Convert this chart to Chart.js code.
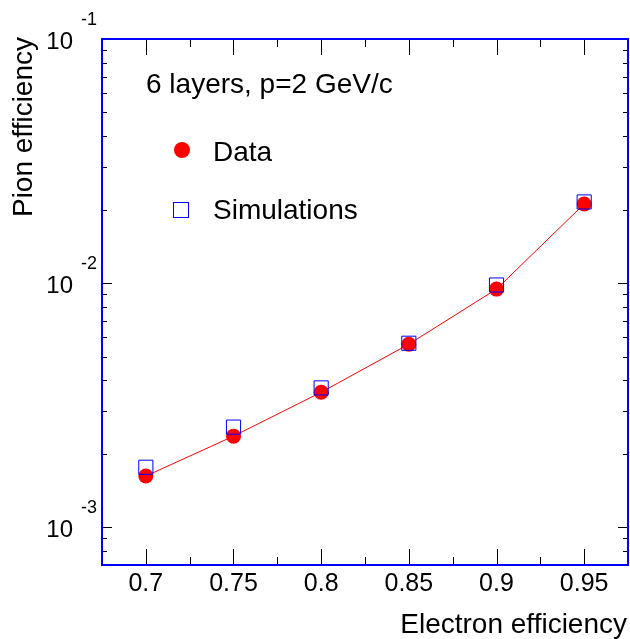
<!DOCTYPE html>
<html>
<head>
<meta charset="utf-8">
<script src="https://cdn.jsdelivr.net/npm/chart.js@4/dist/chart.umd.min.js"></script>
<style>
    html, body { margin: 0; background: #fff; overflow: hidden; }
    canvas { display: block; }
</style>
</head>
<body>
<canvas id="myChart" width="630" height="639"></canvas>
<script>
// values
const electronEff = [0.7, 0.75, 0.8, 0.85, 0.9, 0.95];
const dataPionEff = [0.00162, 0.00236, 0.00357, 0.00562, 0.00945, 0.0211];
const simPionEff = [0.00176, 0.00257, 0.00372, 0.00567, 0.00982, 0.0215];
const xTickLabels = ['0.7', '0.75', '0.8', '0.85', '0.9', '0.95'];
const yDecades = [-3, -2, -1];

const xMin = 0.675, xMax = 0.975;
const yMin = 0.0007, yMax = 0.1;

const font = '"Liberation Sans", Arial, sans-serif';

const rootFrame = {
    id: 'rootFrame',
    afterDraw(chart) {
        const ctx = chart.ctx;
        const a = chart.chartArea;
        const xs = chart.scales.x;
        const ys = chart.scales.y;
        ctx.save();

        // ticks
        ctx.strokeStyle = '#000';
        ctx.lineWidth = 1;
        ctx.beginPath();
        for (let i = 0; i < xTickLabels.length; i++) {
            const px = Math.round(xs.getPixelForValue(electronEff[i])) + 0.5;
            ctx.moveTo(px, a.bottom); ctx.lineTo(px, a.bottom - 16);
            ctx.moveTo(px, a.top); ctx.lineTo(px, a.top + 16);
        }
        for (let v = 0.725; v < 0.95; v += 0.05) {
            const px = Math.round(xs.getPixelForValue(v)) + 0.5;
            ctx.moveTo(px, a.bottom); ctx.lineTo(px, a.bottom - 8);
            ctx.moveTo(px, a.top); ctx.lineTo(px, a.top + 8);
        }
        for (let d = -4; d <= -2; d++) {
            for (let m = 1; m <= 9; m++) {
                const v = m * Math.pow(10, d);
                if (v < yMin || v > yMax) continue;
                const py = Math.round(ys.getPixelForValue(v)) + 0.5;
                const len = m === 1 ? 10 : 5;
                ctx.moveTo(a.left, py); ctx.lineTo(a.left + len, py);
                ctx.moveTo(a.right, py); ctx.lineTo(a.right - len, py);
            }
        }
        ctx.stroke();

        // frame
        ctx.strokeStyle = '#0000ff';
        ctx.lineWidth = 2;
        ctx.strokeRect(a.left, a.top, a.right - a.left, a.bottom - a.top);

        // tick labels
        ctx.fillStyle = '#000';
        ctx.font = '25px ' + font;
        ctx.textAlign = 'center';
        ctx.textBaseline = 'alphabetic';
        xTickLabels.forEach((t, i) => {
            ctx.fillText(t, xs.getPixelForValue(electronEff[i]), 591);
        });
        yDecades.forEach(d => {
            const py = ys.getPixelForValue(Math.pow(10, d));
            ctx.font = '24px ' + font;
            ctx.textAlign = 'right';
            ctx.fillText('10', 73, py + 10);
            ctx.font = '18px ' + font;
            ctx.textAlign = 'left';
            ctx.fillText(String(d), 81, py - 14);
        });

        // axis titles
        ctx.font = '28px ' + font;
        ctx.textAlign = 'right';
        ctx.fillText('Electron efficiency', 627, 633);
        ctx.save();
        ctx.translate(32, 37);
        ctx.rotate(-Math.PI / 2);
        ctx.fillText('Pion efficiency', 0, 0);
        ctx.restore();

        // caption and legend
        ctx.textAlign = 'left';
        ctx.fillText('6 layers, p=2 GeV/c', 146, 93);
        ctx.fillText('Data', 213, 161);
        ctx.fillText('Simulations', 213, 219);
        ctx.fillStyle = '#ff0000';
        ctx.beginPath();
        ctx.arc(182, 150, 8, 0, Math.PI * 2);
        ctx.fill();
        ctx.strokeStyle = '#0000ff';
        ctx.lineWidth = 1;
        ctx.strokeRect(173.5, 202.5, 15, 15);

        ctx.restore();
    }
};

new Chart(document.getElementById('myChart'), {
    type: 'line',
    data: {
        datasets: [
            {
                label: 'Simulations',
                data: electronEff.map((x, i) => ({ x: x, y: simPionEff[i] })),
                showLine: false,
                pointStyle: 'rect',
                pointRadius: 10,
                pointBorderColor: '#0000ff',
                pointBackgroundColor: 'rgba(0,0,0,0)',
                pointBorderWidth: 1,
                order: 1
            },
            {
                label: 'Data',
                data: electronEff.map((x, i) => ({ x: x, y: dataPionEff[i] })),
                borderColor: '#ff0000',
                borderWidth: 1,
                tension: 0,
                pointStyle: 'circle',
                pointRadius: 7.5,
                pointBorderWidth: 0,
                pointBackgroundColor: '#ff0000',
                order: 2
            }
        ]
    },
    options: {
        responsive: false,
        animation: false,
        layout: { autoPadding: false, padding: { left: 102, right: 2, top: 39, bottom: 74 } },
        scales: {
            x: { type: 'linear', min: xMin, max: xMax, display: false },
            y: { type: 'logarithmic', min: yMin, max: yMax, display: false }
        },
        plugins: {
            legend: { display: false },
            tooltip: { enabled: false }
        }
    },
    plugins: [rootFrame]
});
</script>
</body>
</html>
